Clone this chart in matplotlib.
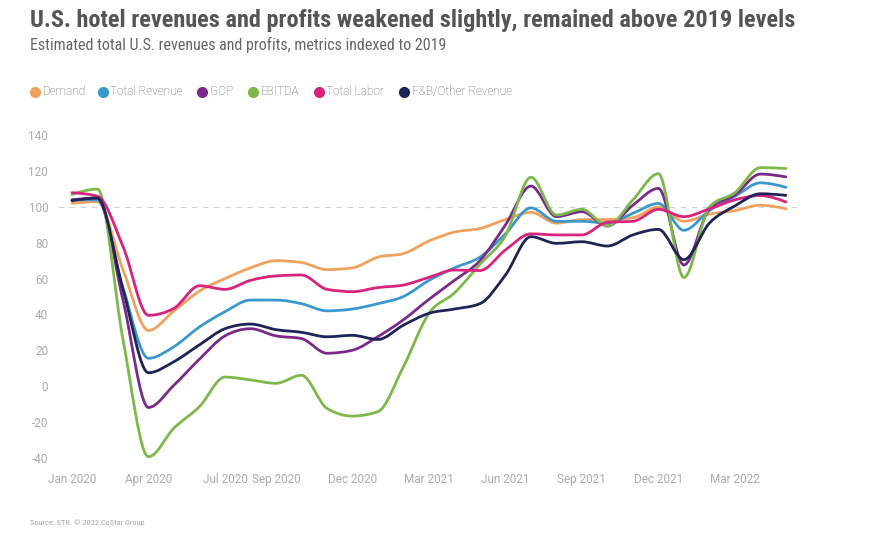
import numpy as np
import matplotlib
matplotlib.use("Agg")
import matplotlib.pyplot as plt
from matplotlib.path import Path
from matplotlib.patches import PathPatch
from matplotlib.lines import Line2D

# Data: monthly index values (2019 = 100), Jan 2020 .. May 2022
demand = [102, 103, 65, 31, 42, 53, 60, 66, 70, 69, 65, 66, 72, 74, 81,
          86, 88, 93, 97, 91, 93, 93, 94, 100, 92, 96, 98, 101, 99]
total_revenue = [104, 104, 55, 15.5, 22, 33, 41.5, 48, 48, 46, 42, 43, 46, 50, 59,
                 66, 72, 85, 99.5, 92, 92, 91, 96.5, 102, 87, 98, 106, 113.5, 111]
gop = [104, 105, 48, -12, 0.5, 15, 28, 32, 28, 26.5, 18.3, 20, 27.6, 37, 48.4,
       59, 70, 90, 111.7, 94.6, 97.4, 89.4, 101, 110.4, 67.6, 99, 106.7, 118.4, 116.8]
ebitda = [107, 110, 26, -39.5, -23.5, -11.5, 5, 3.4, 1.5, 6, -12.5, -16.8, -14.3, 10.8, 40.6,
          52, 68, 84, 116.6, 95.5, 98.7, 89.4, 104, 118.6, 60.6, 100, 108, 122, 121.5]
total_labor = [108, 106, 78, 39.5, 43.4, 56, 54, 59, 61.5, 62, 54, 52.7, 55, 56.4, 60.7,
               64.8, 64.5, 76, 85, 84.4, 84.4, 91.5, 92, 98.7, 94.6, 99, 104, 106.4, 102.8]
fb_other = [103.5, 105, 54, 7.4, 13.6, 23, 32, 34.6, 31.5, 30, 27.5, 28.3, 26, 34, 40.6,
            43, 46, 62, 83.4, 79.7, 80.6, 78.2, 84.4, 87.5, 70.6, 91, 100.6, 107.4, 106.5]

series_names = ["Demand", "Total Revenue", "GOP", "EBITDA", "Total Labor", "F&B/Other Revenue"]
series_colors = ["#EFA25E", "#3B98CC", "#7A2A8A", "#7CB84A", "#D8247C", "#1E2455"]

tick_months = [0, 3, 6, 8, 11, 14, 17, 20, 23, 26]
tick_labels = ["Jan 2020", "Apr 2020", "Jul 2020", "Sep 2020", "Dec 2020",
               "Mar 2021", "Jun 2021", "Sep 2021", "Dec 2021", "Mar 2022"]
y_ticks = [-40, -20, 0, 20, 40, 60, 80, 100, 120, 140]

plt.rcParams["font.family"] = ["Roboto", "DejaVu Sans"]
narrow = ["Roboto Condensed", "Liberation Sans Narrow", "Roboto", "DejaVu Sans"]


# smooth curve through the points (same idea as d3 curveMonotoneX)
def monotone_path(x, y):
    x = np.asarray(x, float)
    y = np.asarray(y, float)
    n = len(x)
    h = np.diff(x)
    s = np.diff(y) / h
    t = np.zeros(n)
    for i in range(1, n - 1):
        p = (s[i - 1] * h[i] + s[i] * h[i - 1]) / (h[i - 1] + h[i])
        t[i] = (np.sign(s[i - 1]) + np.sign(s[i])) * min(abs(s[i - 1]), abs(s[i]), 0.5 * abs(p))
    t[0] = (3 * s[0] - t[1]) / 2
    t[-1] = (3 * s[-1] - t[-2]) / 2
    verts = [(x[0], y[0])]
    codes = [Path.MOVETO]
    for i in range(n - 1):
        dx = h[i] / 3
        verts += [(x[i] + dx, y[i] + dx * t[i]),
                  (x[i + 1] - dx, y[i + 1] - dx * t[i + 1]),
                  (x[i + 1], y[i + 1])]
        codes += [Path.CURVE4] * 3
    return Path(verts, codes)


fig = plt.figure(figsize=(8.89, 5.42), dpi=100)
ax = fig.add_axes([0.0652, 0.1392, 0.8346, 0.6275])

x = np.arange(len(demand))
all_series = [demand, total_revenue, gop, ebitda, total_labor, fb_other]

ax.axhline(100, color="#d0d0d0", lw=0.8, ls=(0, (5, 5)), zorder=1)

for vals, col in zip(all_series, series_colors):
    patch = PathPatch(monotone_path(x, vals), fill=False, edgecolor=col, lw=2.0,
                      capstyle="round", joinstyle="round", zorder=3)
    ax.add_patch(patch)

ax.set_xlim(-0.55, 28.55)
ax.set_ylim(-45, 145)
ax.set_xticks(tick_months)
ax.set_xticklabels(tick_labels)
ax.set_yticks(y_ticks)
ax.set_yticklabels([str(v) for v in y_ticks])
ax.tick_params(axis="both", length=0, colors="#ababab", labelsize=8.5)
ax.tick_params(axis="y", pad=7)
ax.tick_params(axis="x", pad=5)
for sp in ax.spines.values():
    sp.set_visible(False)

# titles
fig.text(30 / 889, 1 - 27 / 542, "U.S. hotel revenues and profits weakened slightly, remained above 2019 levels",
         family=narrow, fontweight="bold", fontsize=17.5, color="#555555", va="baseline")
fig.text(30 / 889, 1 - 50 / 542, "Estimated total U.S. revenues and profits, metrics indexed to 2019",
         family=narrow, fontsize=11.5, color="#666666", va="baseline")

# legend
legend_x = [35, 102.7, 202.3, 253.3, 319, 404.3]
ly = 1 - 91.7 / 542
for name, col, lx in zip(series_names, series_colors, legend_x):
    fig.add_artist(Line2D([lx / 889], [ly], marker="o", ms=7, color=col, lw=0,
                          transform=fig.transFigure))
    fig.text((lx + 7.5) / 889, ly, name, fontsize=8.5, color="#606060", va="center",
             fontweight="light")

fig.text(30 / 889, 1 - 523 / 542, "Source: STR. \u00a9 2022 CoStar Group",
         family=narrow, fontsize=6, color="#a8a8a8", va="center")

fig.savefig("out.png", dpi=100)
